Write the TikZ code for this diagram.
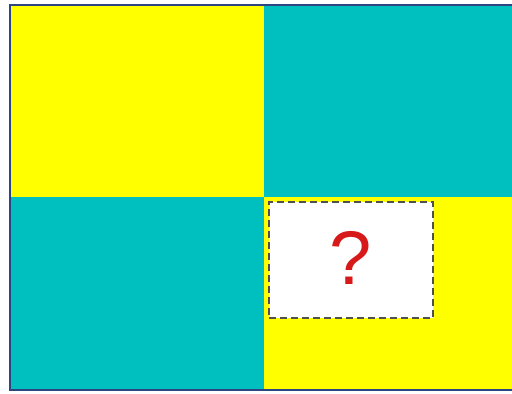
\documentclass[tikz,border=0pt]{standalone}
\usepackage{fontspec}
\setmainfont{Liberation Sans}
\definecolor{cyel}{RGB}{255,255,0}
\definecolor{cteal}{RGB}{0,191,191}
\definecolor{cframe}{RGB}{45,70,130}
\definecolor{cdash}{RGB}{80,80,80}
\definecolor{cq}{RGB}{215,25,25}
\tikzset{
  qbox/.style={draw=cdash, line width=2.2pt, dash pattern=on 7pt off 4pt, fill=white, inner sep=0pt},
}
\begin{document}
\begin{tikzpicture}[x=1pt,y=1pt]
\useasboundingbox (0,0) rectangle (512,394);
\fill[white] (0,0) rectangle (512,394);
% cells
\fill[cyel] (10,197) rectangle (264,389);
\fill[cteal] (264,197) rectangle (514,389);
\fill[cteal] (10,4) rectangle (264,197);
\fill[cyel] (264,4) rectangle (514,197);
% outer frame
\draw[cframe, line width=1.8pt] (10,4) rectangle (514,389);
% dashed box
\node[qbox, minimum width=164pt, minimum height=116pt, anchor=north west] (q) at (268,193) {};
\node[text=cq, draw=cq, line width=0.8pt, draw opacity=0, font=\fontsize{76}{76}\selectfont, inner sep=0pt] (qm) at ([yshift=2pt]q.center) {?};
\end{tikzpicture}
\end{document}
